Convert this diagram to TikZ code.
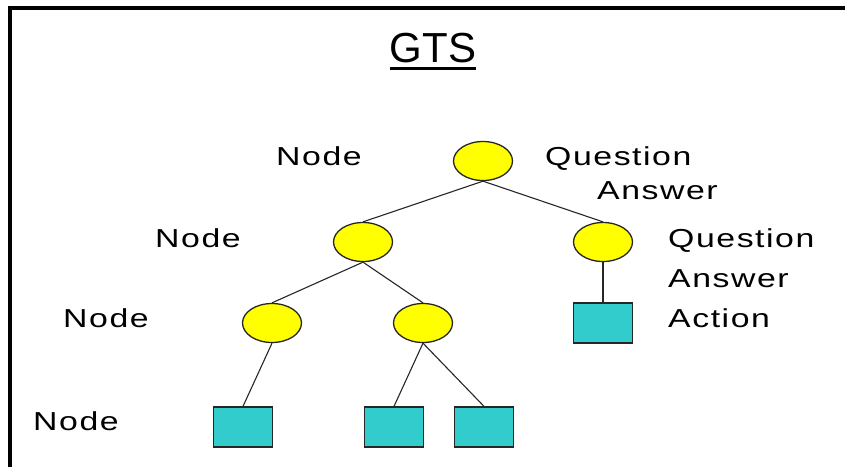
\documentclass[tikz,border=0pt]{standalone}
\usepackage{fontspec}
\setmainfont{Liberation Sans}
\newfontfamily\labelfont[FakeStretch=1.3,LetterSpace=6]{Liberation Sans}
\usetikzlibrary{shapes.geometric}
\definecolor{qyellow}{RGB}{255,255,0}
\definecolor{actteal}{RGB}{51,204,204}

\begin{document}
\begin{tikzpicture}[x=1pt, y=-1pt,
    qnode/.style={draw=black!85, line width=1.3pt, fill=qyellow, ellipse, minimum width=59pt, minimum height=39pt, inner sep=0pt},
    actnode/.style={draw=black!85, line width=1.3pt, fill=actteal, rectangle, minimum width=59pt, minimum height=40pt, inner sep=0pt},
    lbl/.style={anchor=base west, inner sep=0pt, font=\labelfont\fontsize{26}{30}\selectfont},
    edge/.style={line width=1.1pt, black!85}]
  \useasboundingbox (0,0) rectangle (845,467);
  \draw[line width=4pt] (10,467) -- (10,8) -- (845,8);
  % title
  \node[anchor=base, inner sep=0pt, font=\fontsize{42}{48}\selectfont] (title) at (433,62) {GTS};
  \draw[line width=3pt] ([yshift=-6.5pt]title.base west) -- ([yshift=-6.5pt]title.base east);
  % tree
  \node[qnode] (root) at (483,161) {};
  \node[qnode] (qa) at (363,242) {};
  \node[qnode] (qb) at (603,242) {};
  \node[qnode] (qc) at (272,323) {};
  \node[qnode] (qd) at (423,323) {};
  \node[actnode] (aa) at (603,323) {};
  \node[actnode] (ab) at (243,427) {};
  \node[actnode] (ac) at (394,427) {};
  \node[actnode] (ad) at (484,427) {};
  \draw[edge] (root.south) -- (qa.north);
  \draw[edge] (root.south) -- (qb.north);
  \draw[edge] (qa.south) -- (qc.north);
  \draw[edge] (qa.south) -- (qd.north);
  \draw[edge] (qb.south) -- (aa.north);
  \draw[edge] (qc.south) -- (ab.north);
  \draw[edge] (qd.south) -- (ac.north);
  \draw[edge] (qd.south) -- (ad.north);
  % labels
  \node[lbl] (n1) at (276,165) {Node};
  \node[lbl] (q1) at (545,165) {Question};
  \node[lbl] (a1) at (597,199) {Answer};
  \node[lbl] (n2) at (155,247) {Node};
  \node[lbl] (q2) at (668,247) {Question};
  \node[lbl] (a2) at (668,287) {Answer};
  \node[lbl] (act) at (668,327) {Action};
  \node[lbl] (n3) at (63,327) {Node};
  \node[lbl] (n4) at (33,430) {Node};
\end{tikzpicture}
\end{document}
